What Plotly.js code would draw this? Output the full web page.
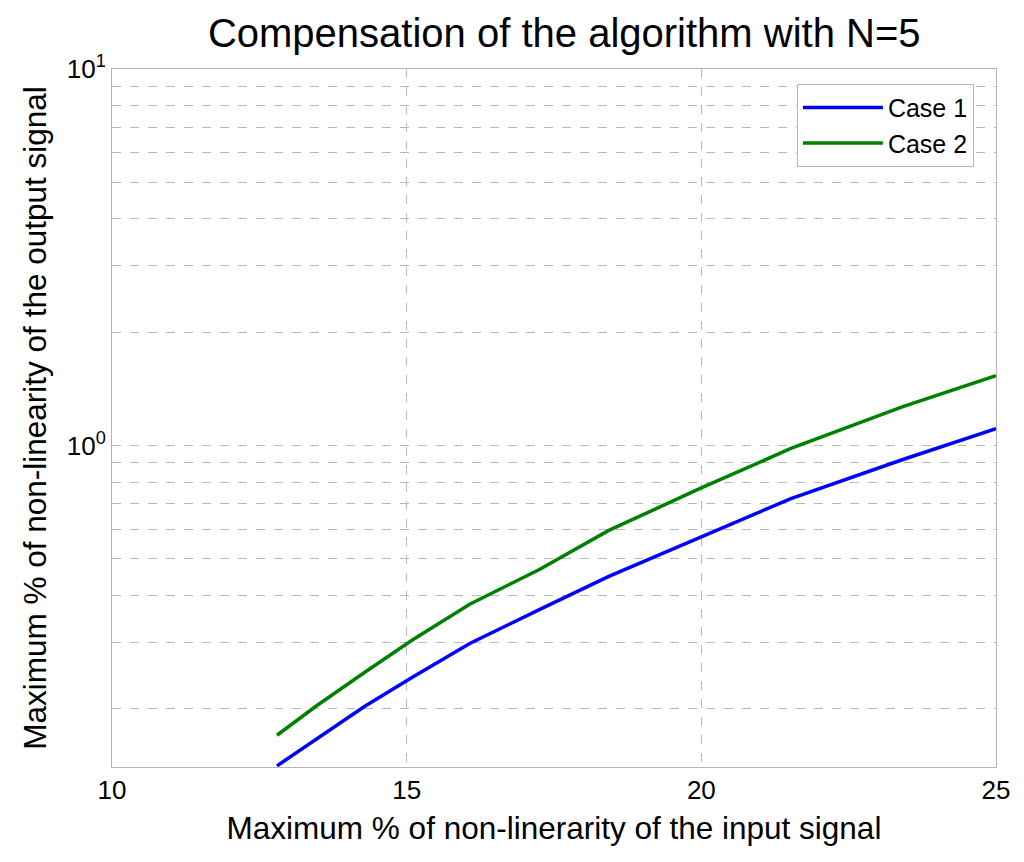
<!DOCTYPE html>
<html>
<head>
<meta charset="utf-8">
<script src="https://cdn.plot.ly/plotly-3.0.1.min.js"></script>
<style>
    body { margin: 0; background: #fff; }
    #chart { width: 1024px; height: 862px; }
</style>
</head>
<body>
<div id="chart"></div>
<script>
// Data
let xInput = [12.8, 13.46, 14.29, 15.09, 16.07, 17.26, 18.43, 19.98, 21.52, 23.42, 25.0];
let case1 = [0.141, 0.166, 0.203, 0.242, 0.298, 0.367, 0.449, 0.570, 0.723, 0.918, 1.109];
let case2 = [0.170, 0.203, 0.250, 0.304, 0.379, 0.469, 0.595, 0.769, 0.982, 1.269, 1.533];

let yTickVals = [0.2, 0.3, 0.4, 0.5, 0.6, 0.7, 0.8, 0.9, 1, 2, 3, 4, 5, 6, 7, 8, 9, 10];
let yTickText = ['', '', '', '', '', '', '', '', '10<sup>0</sup>', '', '', '', '', '', '', '', '', '10<sup>1</sup>'];
let xTickVals = [10, 15, 20, 25];

/**
 * Create chart for compensation of the algorithm
 */
function createCompensationDiagram() {
    let trace1 = {
        x: xInput,
        y: case1,
        name: 'Case 1',
        type: 'scatter',
        mode: 'lines',
        line: {
            color: '#0000ff',
            width: 3.5
        }
    }

    let trace2 = {
        x: xInput,
        y: case2,
        name: 'Case 2',
        type: 'scatter',
        mode: 'lines',
        line: {
            color: '#008000',
            width: 3.5
        }
    }

    let data = [trace1, trace2];

    // Layout of the chart
    let layout = {
        width: 1024,
        height: 862,
        paper_bgcolor: '#ffffff',
        plot_bgcolor: '#ffffff',
        font: {
            family: 'Liberation Sans, Arial, sans-serif',
            color: '#000'
        },
        title: {
            text: 'Compensation of the algorithm with N=5',
            font: { size: 40 },
            x: 0.551,
            xanchor: 'center',
            y: 0.962,
            yanchor: 'middle'
        },
        showlegend: true,
        legend: {
            x: 0.975,
            xanchor: 'right',
            y: 0.979,
            yanchor: 'top',
            bgcolor: '#ffffff',
            bordercolor: '#b4b4b4',
            borderwidth: 1,
            font: { size: 25 },
            itemwidth: 80,
            tracegroupgap: 6
        },
        xaxis: {
            range: [10, 25],
            tickvals: xTickVals,
            ticks: '',
            tickfont: { size: 26 },
            showgrid: true,
            gridcolor: '#b8b8b8',
            griddash: 'dash',
            gridwidth: 1,
            zeroline: false,
            showline: true,
            linecolor: '#b4b4b4',
            mirror: true,
            title: {
                text: 'Maximum % of non-linerarity of the input signal',
                font: { size: 31.5 },
                standoff: 12
            }
        },
        yaxis: {
            type: 'log',
            range: [Math.log10(0.14), 1],
            tickvals: yTickVals,
            ticktext: yTickText,
            ticks: '',
            tickfont: { size: 26 },
            showgrid: true,
            gridcolor: '#b8b8b8',
            griddash: 'dash',
            gridwidth: 1,
            zeroline: false,
            showline: true,
            linecolor: '#b4b4b4',
            mirror: true,
            title: {
                text: 'Maximum % of non-linearity of the output signal',
                font: { size: 31.5 },
                standoff: 10
            }
        },
        margin: {
            l: 112,
            r: 28,
            t: 69,
            b: 95
        }
    }

    // General chart configuration
    let config = {
        displayModeBar: false,
        responsive: false
    }

    let htmlElement = document.getElementById('chart');
    htmlElement.innerHTML = '';
    Plotly.newPlot(htmlElement, data, layout, config);
}

createCompensationDiagram();
</script>
</body>
</html>
